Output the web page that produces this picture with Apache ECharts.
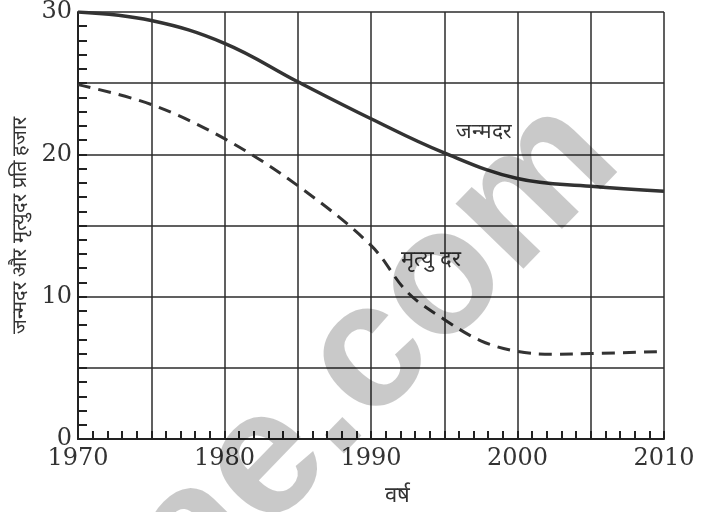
<!DOCTYPE html>
<html>
<head>
<meta charset="utf-8">
<script src="https://cdn.jsdelivr.net/npm/echarts@6/dist/echarts.min.js"></script>
<style>
html,body{margin:0;padding:0;background:#fff;}
#chart{width:707px;height:512px;}
</style>
</head>
<body>
<div id="chart"></div>
<script>
// Data
const birthYears = [1970, 1975, 1980, 1985, 1990, 1995, 2000, 2005, 2010];
const birthRate  = [30.0, 29.4, 27.8, 25.1, 22.5, 20.1, 18.3, 17.75, 17.4];
const deathYears = [1970, 1975, 1980, 1985, 1990, 1992.5, 1995, 1997.5, 2000, 2002.5, 2005, 2010];
const deathRate  = [24.9, 23.5, 21.1, 17.8, 13.6, 10.3, 8.4, 6.9, 6.15, 5.95, 6.0, 6.15];
const birthLabel = 'जन्मदर';
const deathLabel = 'मृत्यु दर';
const xName = 'वर्ष';
const yName = 'जन्मदर और मृत्युदर प्रति हजार';
const watermark = 'ae.com';

const chart = echarts.init(document.getElementById('chart'));
const ink = '#222';
const tickFont = {fontFamily: 'DejaVu Serif', fontSize: 24, color: '#333'};

chart.setOption({
  animation: false,
  backgroundColor: '#fff',
  grid: {left: 78, right: 43, top: 12, bottom: 71, show: false},
  xAxis: {
    type: 'value', min: 1970, max: 2010, interval: 5,
    axisLine: {show: true, onZero: false, lineStyle: {color: ink, width: 2}},
    axisTick: {show: true, inside: true, length: 8, lineStyle: {color: ink, width: 2}},
    minorTick: {show: true, splitNumber: 5, length: 8, lineStyle: {color: ink, width: 2}},
    splitLine: {show: true, lineStyle: {color: '#2b2b2b', width: 1.5}},
    axisLabel: Object.assign({margin: 8, formatter: v => (v % 10 === 0 ? String(v) : '')}, tickFont),
    name: xName, nameLocation: 'middle', nameGap: 46,
    nameTextStyle: {fontSize: 22, color: '#333', padding: [0, 0, 0, 52]}
  },
  yAxis: {
    type: 'value', min: 0, max: 30, interval: 5,
    axisLine: {show: true, onZero: false, lineStyle: {color: ink, width: 2}},
    axisTick: {show: true, inside: true, length: 9, lineStyle: {color: ink, width: 2}},
    minorTick: {show: true, splitNumber: 5, length: 9, lineStyle: {color: ink, width: 2}},
    splitLine: {show: true, lineStyle: {color: '#2b2b2b', width: 1.5}},
    axisLabel: Object.assign({margin: 6, formatter: v => (v % 10 === 0 ? String(v) : '')}, tickFont),
    name: yName, nameLocation: 'middle', nameGap: 44, nameRotate: 90,
    nameTextStyle: {fontSize: 20, color: '#333'}
  },
  series: [
    {
      type: 'line', name: birthLabel, smooth: 0.4, symbol: 'none',
      data: birthYears.map((y, i) => [y, birthRate[i]]),
      lineStyle: {color: '#333', width: 3.5}
    },
    {
      type: 'line', name: deathLabel, smooth: 0.35, symbol: 'none',
      data: deathYears.map((y, i) => [y, deathRate[i]]),
      lineStyle: {color: '#333', width: 3, type: [13, 8]}
    }
  ],
  graphic: [
    {type: 'text', left: 456, top: 122, z: 50,
     style: {text: birthLabel, fontSize: 21, fill: '#333'}},
    {type: 'text', left: 401, top: 249, z: 50,
     style: {text: deathLabel, fontSize: 22, fill: '#333'}},
    {type: 'text', x: 376, y: 350, rotation: 0.8, z: 100,
     style: {text: watermark, fontFamily: 'Liberation Sans', fontWeight: 'bold', fontSize: 178,
             fill: 'rgba(0,0,0,0.21)', align: 'center', verticalAlign: 'middle'}}
  ]
});
</script>
</body>
</html>
